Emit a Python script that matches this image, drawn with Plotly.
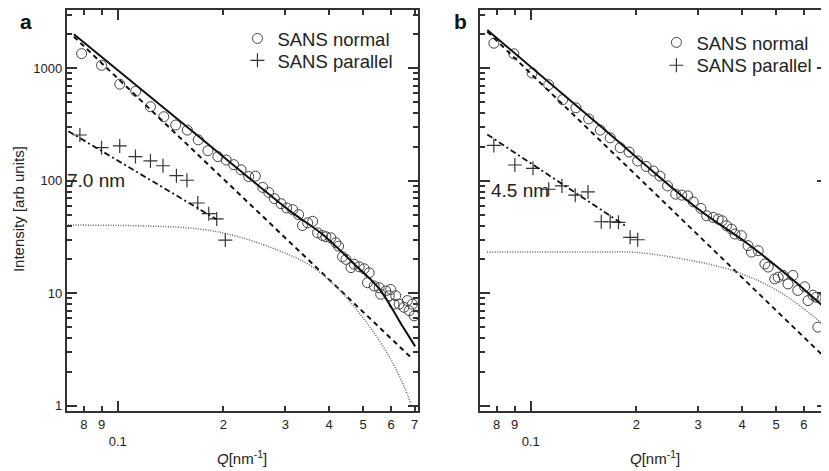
import plotly.graph_objects as go

# ---------------- Panel a data ----------------
qa_normal = [0.0789, 0.0899, 0.1013, 0.1125, 0.1239, 0.1352, 0.1462, 0.1578, 0.1695, 0.1806,
             0.1928, 0.2036, 0.2139, 0.2245, 0.2359, 0.2465, 0.2588, 0.2692, 0.2793, 0.2918,
             0.3027, 0.3148, 0.3273, 0.3357, 0.3473, 0.3589, 0.3707, 0.3830, 0.3915, 0.4045,
             0.4178, 0.4253, 0.4365, 0.4465, 0.4615, 0.4713, 0.4869, 0.5030, 0.5141, 0.5197,
             0.5373, 0.5550, 0.5607, 0.5796, 0.5929, 0.5990, 0.6122, 0.6189, 0.6329, 0.6531,
             0.6677, 0.6760, 0.6905, 0.6983]
ia_normal = [1349, 1063, 722, 625, 455, 371, 313, 282, 231, 185,
             164, 153, 139, 125, 109, 110, 87.3, 78.7, 69.3, 62.5,
             57.3, 55.3, 50.0, 40.0, 42.3, 43.6, 34.4, 32.6, 31.8, 31.1,
             28.1, 26.2, 21.1, 20.0, 16.9, 18.1, 17.2, 16.5, 12.4, 15.2,
             11.6, 11.2, 9.8, 10.5, 9.5, 10.8, 8.0, 9.5, 8.0, 7.5,
             8.6, 7.0, 8.0, 6.3]
qa_parallel = [0.0780, 0.0899, 0.1013, 0.1123, 0.1239, 0.1345, 0.1469, 0.1574, 0.1690, 0.1816, 0.1913, 0.2024]
ia_parallel = [255, 197, 204, 164, 150, 136, 111, 101, 63.4, 51.0, 45.8, 29.7]

qa_fit_total = [0.0750, 0.1711, 0.3083, 0.3819, 0.4776, 0.5550, 0.6457, 0.7031]
ia_fit_total = [2010, 244, 54.3, 33.6, 17.5, 11.0, 5.15, 3.37]
qa_fit_power = [0.0750, 0.6887]
ia_fit_power = [1910, 2.63]
qa_fit_particle = [0.0721, 0.1233, 0.1711, 0.2222, 0.3083, 0.3581, 0.4274, 0.5090, 0.5929, 0.6531, 0.6842]
ia_fit_particle = [40.4, 39.5, 37.2, 31.6, 21.9, 17.2, 10.7, 5.6, 2.74, 1.49, 1.03]
qa_fit_parallel = [0.0723, 0.1906]
ia_fit_parallel = [276, 45.6]

# ---------------- Panel b data ----------------
qb_normal = [0.0785, 0.0895, 0.1009, 0.1125, 0.1233, 0.1345, 0.1462, 0.1578, 0.1684, 0.1798,
             0.1906, 0.2017, 0.2132, 0.2236, 0.2334, 0.2453, 0.2588, 0.2692, 0.2799, 0.2904,
             0.3053, 0.3170, 0.3311, 0.3421, 0.3511, 0.3613, 0.3733, 0.3816, 0.3981, 0.4159,
             0.4253, 0.4446, 0.4645, 0.4748, 0.4954, 0.5070, 0.5239, 0.5408, 0.5582, 0.5765,
             0.6030, 0.6166, 0.6370, 0.6503, 0.6576, 0.6791, 0.6945]
ib_normal = [1671, 1344, 907, 714, 526, 445, 355, 282, 241, 197,
             180, 150, 134, 122, 110, 90, 76, 74.5, 73.4, 64.9,
             56.8, 48.8, 47.2, 45.6, 44.1, 39.8, 37.2, 33.6, 32.5, 26.5,
             23.2, 23.9, 18.2, 17.1, 13.4, 13.9, 14.4, 12.1, 14.4, 10.6,
             11.4, 8.6, 9.6, 9.2, 5.0, 8.9, 8.4]
qb_parallel = [0.0785, 0.0901, 0.1015, 0.1125, 0.1227, 0.1339, 0.1456, 0.1588, 0.1684, 0.1778, 0.1919, 0.2017]
ib_parallel = [206, 138, 129, 84, 90, 74.5, 79.6, 43.2, 43.2, 42.7, 31.4, 29.9]

qb_fit_total = [0.0752, 0.156, 0.2999, 0.4159, 0.5765, 0.6982]
ib_fit_total = [2193, 316, 56.0, 27.4, 12.1, 7.1]
qb_fit_power = [0.0752, 0.6934]
ib_fit_power = [2118, 2.63]
qb_fit_particle = [0.0751, 0.156, 0.1986, 0.2999, 0.3899, 0.5164, 0.6934]
ib_fit_particle = [23.2, 23.2, 23.1, 19.0, 15.3, 10.1, 5.06]
qb_fit_parallel = [0.0752, 0.1858]
ib_fit_parallel = [258, 39.8]

# ---------------- tick labels ----------------
x_tickvals = [0.08, 0.09, 0.1, 0.2, 0.3, 0.4, 0.5, 0.6, 0.7]
x_ticktext = ["8", "9", "\u00a0<br>0.1", "2", "3", "4", "5", "6", "7"]
y_tickvals = [1, 10, 100, 1000]
y_ticktext = ["1", "10", "100", "1000"]
y_minor = [m * 10 ** e for e in range(0, 4) for m in range(2, 10)]

# page body has an 8px margin, so the figure is sized to the visible window
W, H = 821, 463
FONT = "Liberation Sans, Arial, sans-serif"
INK = "#222222"


def px(x):
    return x / W


def py(y):
    return 1 - y / H


fig = go.Figure()


def add_panel(xa, ya, leg_n, leg_p, qn, inn, qp, ip, qt, it, qpw, ipw, qpa, ipa, qpl, ipl):
    fig.add_trace(go.Scatter(x=qn, y=inn, mode="markers", name="SANS normal", xaxis=xa, yaxis=ya,
                             legend=leg_n,
                             marker=dict(symbol="circle-open", size=10, color="#444444", line=dict(width=1))))
    fig.add_trace(go.Scatter(x=qp, y=ip, mode="markers", name="SANS parallel", xaxis=xa, yaxis=ya,
                             legend=leg_p,
                             marker=dict(symbol="cross-thin-open", size=10, color="#333333",
                                         line=dict(width=1.2, color="#333333"))))
    fig.add_trace(go.Scatter(x=qt, y=it, mode="lines", showlegend=False, xaxis=xa, yaxis=ya,
                             line=dict(color="#111111", width=2, shape="spline")))
    fig.add_trace(go.Scatter(x=qpw, y=ipw, mode="lines", showlegend=False, xaxis=xa, yaxis=ya,
                             line=dict(color="#111111", width=2, dash="5px,4px")))
    fig.add_trace(go.Scatter(x=qpa, y=ipa, mode="lines", showlegend=False, xaxis=xa, yaxis=ya,
                             line=dict(color="#666666", width=1.5, dash="1px,1.5px", shape="spline")))
    fig.add_trace(go.Scatter(x=qpl, y=ipl, mode="lines", showlegend=False, xaxis=xa, yaxis=ya,
                             line=dict(color="#111111", width=1.8, dash="6px,3px,2px,3px")))


add_panel("x", "y", "legend", "legend3", qa_normal, ia_normal, qa_parallel, ia_parallel,
          qa_fit_total, ia_fit_total, qa_fit_power, ia_fit_power,
          qa_fit_particle, ia_fit_particle, qa_fit_parallel, ia_fit_parallel)
add_panel("x2", "y2", "legend2", "legend4", qb_normal, ib_normal, qb_parallel, ib_parallel,
          qb_fit_total, ib_fit_total, qb_fit_power, ib_fit_power,
          qb_fit_particle, ib_fit_particle, qb_fit_parallel, ib_fit_parallel)

xcommon = dict(type="log", showline=True, linewidth=2, linecolor="#333333", mirror="ticks",
               ticks="inside", ticklen=5, tickwidth=1.5, tickcolor="#333333",
               tickmode="array", tickvals=x_tickvals, ticktext=x_ticktext,
               tickfont=dict(family=FONT, size=13, color=INK),
               minor=dict(ticks="inside", ticklen=10, tickwidth=1.5, tickcolor="#333333",
                          tickmode="array", tickvals=[0.1], showgrid=False),
               showgrid=False, zeroline=False)
ycommon = dict(type="log", showline=True, linewidth=2, linecolor="#333333", mirror="ticks",
               ticks="inside", ticklen=10, tickwidth=1.5, tickcolor="#333333",
               tickmode="array", tickvals=y_tickvals, ticktext=y_ticktext,
               tickfont=dict(family=FONT, size=13, color=INK),
               minor=dict(ticks="inside", ticklen=5, tickwidth=1.5, tickcolor="#333333",
                          tickmode="array", tickvals=y_minor, showgrid=False),
               range=[-0.049, 3.518], showgrid=False, zeroline=False)

ydom = [py(405), py(2)]


def legend_at(x, y):
    return dict(x=px(x), y=py(y), xanchor="left", yanchor="middle",
                bgcolor="rgba(0,0,0,0)", font=dict(family=FONT, size=18.5, color=INK))


fig.update_layout(
    width=W, height=H, margin=dict(l=0, r=0, t=0, b=0),
    paper_bgcolor="white", plot_bgcolor="white",
    font=dict(family=FONT, color=INK),
    xaxis=dict(xcommon, domain=[px(59), px(411)], range=[-1.145, -0.145], anchor="y"),
    yaxis=dict(ycommon, domain=ydom, anchor="x"),
    xaxis2=dict(xcommon, domain=[px(473), 1.0], range=[-1.145, -0.156], anchor="y2"),
    yaxis2=dict(ycommon, domain=ydom, anchor="x2", showticklabels=False),
    legend=legend_at(230, 31),
    legend3=legend_at(230, 53),
    legend2=legend_at(650, 35),
    legend4=legend_at(650, 58),
    showlegend=True,
)

ann = [
    dict(text="<b>a</b>", x=px(18), y=py(0), yanchor="top", font=dict(size=21, family=FONT, color="#111")),
    dict(text="<b>b</b>", x=px(454), y=py(0), yanchor="top", font=dict(size=21, family=FONT, color="#111")),
    dict(text="7.0 nm", x=px(57), y=py(173), xanchor="left", font=dict(size=19, family=FONT, color=INK)),
    dict(text="4.5 nm", x=px(482), y=py(183), xanchor="left", font=dict(size=19, family=FONT, color=INK)),
    dict(text="Intensity [arb units]", x=px(10), y=py(202), textangle=-90,
         font=dict(size=15, family=FONT, color=INK)),
    dict(text="<i>Q</i>[nm<sup>-1</sup>]", x=px(235), y=py(451), font=dict(size=15, family=FONT, color=INK)),
    dict(text="<i>Q</i>[nm<sup>-1</sup>]", x=px(649), y=py(451), font=dict(size=15, family=FONT, color=INK)),
]
for a in ann:
    a.setdefault("xanchor", "center")
    a.setdefault("yanchor", "middle")
    fig.add_annotation(xref="paper", yref="paper", showarrow=False, **a)

fig.write_html("out.html")
